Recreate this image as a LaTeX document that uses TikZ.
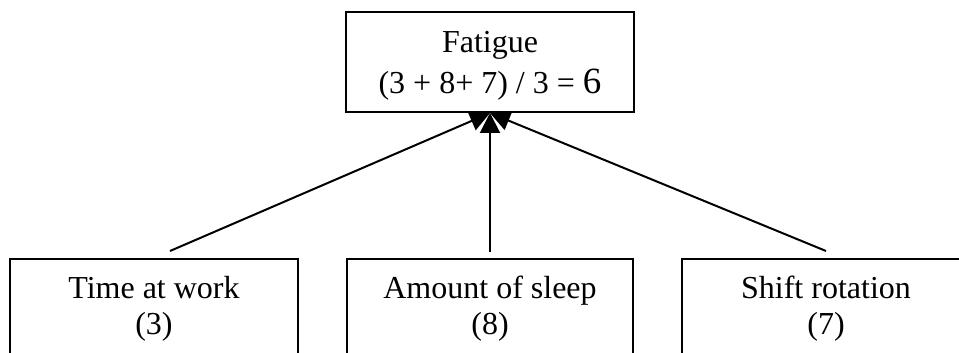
\documentclass[tikz,border=0pt]{standalone}
\usepackage{fontspec}
\setmainfont{Liberation Serif}
\usetikzlibrary{arrows.meta}

\begin{document}
\begin{tikzpicture}[x=0.5pt, y=0.5pt,
    box/.style={draw, line width=1pt, inner xsep=0pt, inner ysep=0pt,
      align=center, font=\fontsize{16}{18}\selectfont},
    link/.style={line width=1pt, -{Triangle[length=10pt, width=10pt]}}]
  \useasboundingbox (0,0) rectangle (959,353);
  \clip (0,0) rectangle (959,353);
  % top box
  \node[box, anchor=north, minimum width=144pt, text height=41pt, text depth=9pt,
    font=\fontsize{16}{20.5}\selectfont] (fatigue) at (490,342)
    {Fatigue\\(3 + 8+ 7) / 3 = {\fontsize{18.5}{20.5}\selectfont 6}};
  % factors
  \node[box, anchor=north, minimum width=144pt, text height=38pt, text depth=55pt]
    (work) at (154,95) {Time at work\\(3)};
  \node[box, anchor=north, minimum width=143pt, text height=38pt, text depth=55pt]
    (sleep) at (490,95) {Amount of sleep\\(8)};
  \node[box, anchor=north, minimum width=144pt, text height=38pt, text depth=55pt]
    (shift) at (826,95) {Shift rotation\\(7)};
  % arrows
  \draw[link] ([xshift=8pt, yshift=3.5pt]work.north) -- (fatigue.south);
  \draw[link] ([yshift=3pt]sleep.north) -- (fatigue.south);
  \draw[link] ([yshift=3.5pt]shift.north) -- (fatigue.south);
\end{tikzpicture}
\end{document}
